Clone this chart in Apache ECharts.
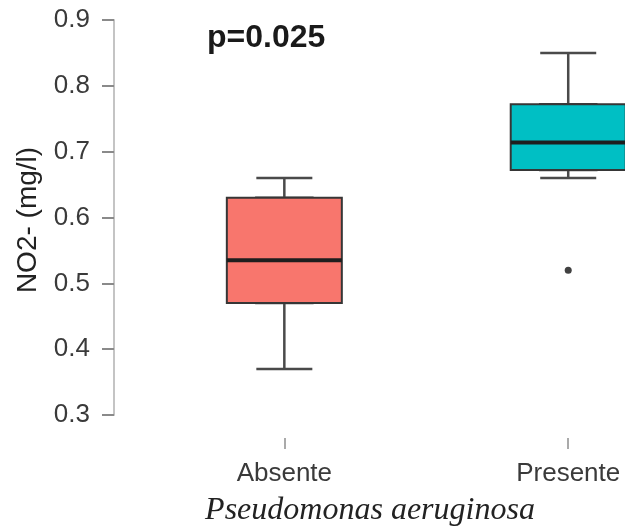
<!DOCTYPE html>
<html>
<head>
<meta charset="utf-8">
<script src="https://cdn.jsdelivr.net/npm/echarts@6/dist/echarts.min.js"></script>
<style>
html,body{margin:0;padding:0;background:#fff;}
#chart{width:625px;height:529px;}
</style>
</head>
<body>
<div id="chart"></div>
<script>
// ---- data ----
var categories = ['Absente', 'Presente'];
var categoryPos = [1, 2];
// [min, Q1, median, Q3, max]
var absenteBox = [0.37, 0.47, 0.535, 0.63, 0.66];
var presenteBox = [0.66, 0.672, 0.714, 0.772, 0.85];
var outlierValues = [[2, 0.52]];
var yTicks = [0.3, 0.4, 0.5, 0.6, 0.7, 0.8, 0.9];
var boxColors = ['#F8766D', '#00BFC4'];
var pText = 'p=0.025';
var yName = 'NO2- (mg/l)';
var xName = 'Pseudomonas aeruginosa';

var boxes = [absenteBox, presenteBox];
var BOXW = 115;
var CAPW = 56;

// whiskers + caps (narrow), drawn underneath
var whiskerData = boxes.map(function (b, i) {
  return {value: [categoryPos[i]].concat(b)};
});
// wide boxes (no whisker extent), drawn on top
var boxData = boxes.map(function (b, i) {
  return {value: [categoryPos[i], b[1], b[1], b[2], b[3], b[3]],
    itemStyle: {color: boxColors[i], borderColor: '#363636', borderWidth: 2}};
});
var medians = boxes.map(function (b, i) { return [categoryPos[i], b[2]]; });

var chart = echarts.init(document.getElementById('chart'), null, {renderer: 'canvas'});
chart.setOption({
  animation: false,
  backgroundColor: '#ffffff',
  grid: {left: 114, right: 0, top: 20, bottom: 114, containLabel: false},
  xAxis: [{
    type: 'value',
    min: 0.4,
    max: 2.2,
    offset: 23,
    axisLine: {show: false},
    axisTick: {show: true, customValues: categoryPos, length: 11, lineStyle: {color: '#aaaaaa', width: 2}},
    axisLabel: {show: true, customValues: categoryPos, fontSize: 26, color: '#3a3a3a', margin: 23,
      fontFamily: 'Liberation Sans, Arial, sans-serif',
      formatter: function (v) { var i = categoryPos.indexOf(Math.round(v)); return i >= 0 ? categories[i] : ''; }},
    splitLine: {show: false}
  }, {
    type: 'value',
    min: 0.4,
    max: 2.2,
    position: 'bottom',
    show: false
  }],
  yAxis: {
    type: 'value',
    min: yTicks[0],
    max: yTicks[yTicks.length - 1],
    interval: 0.1,
    axisLine: {show: true, lineStyle: {color: '#c4c4c4', width: 2}},
    axisTick: {show: true, length: 12, lineStyle: {color: '#8a8a8a', width: 2}},
    axisLabel: {fontSize: 26, color: '#3a3a3a', margin: 24, fontFamily: 'Liberation Sans, Arial, sans-serif',
      formatter: function (v) { return v.toFixed(1); }},
    splitLine: {show: false}
  },
  series: [
    {
      type: 'boxplot',
      layout: 'horizontal',
      xAxisIndex: 0,
      boxWidth: [CAPW, CAPW],
      data: whiskerData,
      z: 2,
      itemStyle: {color: '#ffffff', borderColor: '#4a4a4a', borderWidth: 2.5}
    },
    {
      type: 'boxplot',
      layout: 'horizontal',
      xAxisIndex: 1,
      boxWidth: [BOXW, BOXW],
      data: boxData,
      z: 3,
      itemStyle: {borderColor: '#363636', borderWidth: 2}
    },
    {
      type: 'custom',
      xAxisIndex: 0,
      data: medians,
      z: 5,
      renderItem: function (params, api) {
        var p = api.coord([api.value(0), api.value(1)]);
        return {
          type: 'line',
          shape: {x1: p[0] - BOXW / 2, y1: p[1], x2: p[0] + BOXW / 2, y2: p[1]},
          style: {stroke: '#1e1e1e', lineWidth: 4}
        };
      }
    },
    {
      type: 'scatter',
      xAxisIndex: 0,
      data: outlierValues,
      symbol: 'circle',
      symbolSize: 7,
      itemStyle: {color: '#111111'},
      z: 6
    }
  ],
  graphic: [
    {
      type: 'text', left: 207, top: 22,
      style: {text: pText, font: 'bold 32px "Liberation Sans", Arial, sans-serif', fill: '#1a1a1a'}
    },
    {
      type: 'text', x: 28, y: 220, rotation: Math.PI / 2,
      style: {text: yName, font: '28px "Liberation Sans", Arial, sans-serif', fill: '#222222',
        textAlign: 'center', textVerticalAlign: 'middle'}
    },
    {
      type: 'text', x: 370, y: 511,
      style: {text: xName, font: 'italic 32px "Liberation Serif", "Times New Roman", serif', fill: '#222222',
        textAlign: 'center', textVerticalAlign: 'middle'}
    }
  ]
});
</script>
</body>
</html>
